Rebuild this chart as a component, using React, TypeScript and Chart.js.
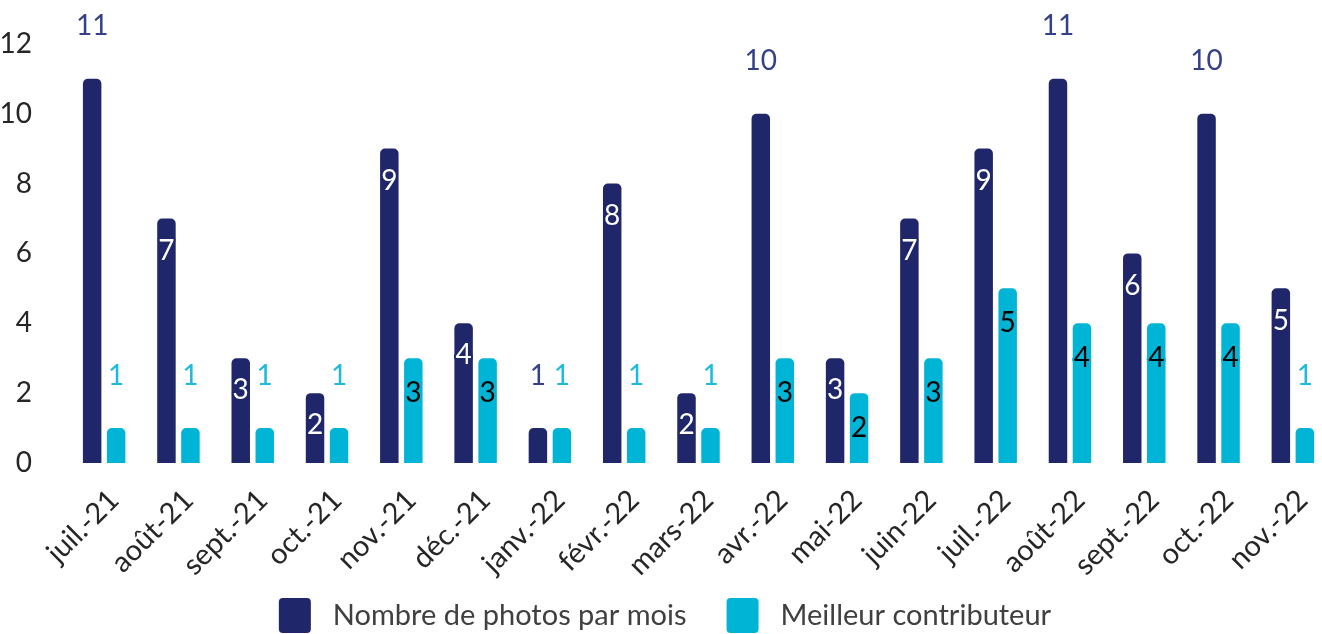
import React, { useEffect, useRef } from "react";
import { Chart, registerables } from "chart.js";

Chart.register(...registerables);

const categories = [
  "juil.-21", "août-21", "sept.-21", "oct.-21", "nov.-21", "déc.-21", "janv.-22",
  "févr.-22", "mars-22", "avr.-22", "mai-22", "juin-22", "juil.-22", "août-22",
  "sept.-22", "oct.-22", "nov.-22",
];
const photosParMois = [11, 7, 3, 2, 9, 4, 1, 8, 2, 10, 3, 7, 9, 11, 6, 10, 5];
const meilleurContributeur = [1, 1, 1, 1, 3, 3, 1, 1, 1, 3, 2, 3, 5, 4, 4, 4, 1];
const yTicks = [0, 2, 4, 6, 8, 10, 12];

const DARK = "#20266A";
const CYAN = "#00B4D6";
const DARK_LABEL = "#35408A";
const CYAN_LABEL = "#1CBADC";
const FONT = "Lato, 'Open Sans', sans-serif";

const labelPlugin = {
  id: "barLabels",
  afterDatasetsDraw(chart: any) {
    const ctx = chart.ctx;
    const yScale = chart.scales.y;
    const unit = Math.abs(yScale.getPixelForValue(1) - yScale.getPixelForValue(0));
    chart.data.datasets.forEach((ds: any, di: number) => {
      const meta = chart.getDatasetMeta(di);
      meta.data.forEach((el: any, i: number) => {
        const v = ds.data[i];
        const outside = v >= 10 || v <= 1;
        ctx.save();
        ctx.font = `28px ${FONT}`;
        ctx.textAlign = "center";
        ctx.textBaseline = "middle";
        if (outside) {
          ctx.fillStyle = di === 0 ? DARK_LABEL : CYAN_LABEL;
          ctx.fillText(String(v), el.x, el.y - unit * 1.5);
        } else {
          const y = el.y + (di === 0 ? unit * 0.92 : unit);
          ctx.lineJoin = "round";
          ctx.lineWidth = 4;
          ctx.strokeStyle = di === 0 ? DARK : CYAN;
          ctx.strokeText(String(v), el.x, y);
          ctx.fillStyle = di === 0 ? "#FFFFFF" : "#000000";
          ctx.fillText(String(v), el.x, y);
        }
        ctx.restore();
      });
    });
  },
};

const legendPlugin = {
  id: "customLegend",
  afterDraw(chart: any) {
    const ctx = chart.ctx;
    const boxW = 32;
    const boxH = 35;
    const gapText = 22;
    const gapItem = 40;
    const top = chart.height - 36;
    ctx.save();
    ctx.font = `29px ${FONT}`;
    const items = chart.data.datasets.map((ds: any) => ({
      text: ds.label,
      color: ds.backgroundColor,
      w: ctx.measureText(ds.label).width,
    }));
    const total = items.reduce((s: number, it: any) => s + boxW + gapText + it.w, 0) + gapItem * (items.length - 1);
    let x = 665 - total / 2;
    items.forEach((it: any) => {
      ctx.fillStyle = it.color;
      ctx.beginPath();
      (ctx as any).roundRect(x, top, boxW, boxH, 4);
      ctx.fill();
      ctx.fillStyle = "#404040";
      ctx.textAlign = "left";
      ctx.textBaseline = "middle";
      ctx.fillText(it.text, x + boxW + gapText, top + boxH / 2);
      x += boxW + gapText + it.w + gapItem;
    });
    ctx.restore();
  },
};

export default function App() {
  const ref = useRef<HTMLCanvasElement | null>(null);
  useEffect(() => {
    document.body.style.margin = "0";
    document.body.style.overflow = "hidden";
    const chart = new Chart(ref.current as HTMLCanvasElement, {
      type: "bar",
      data: {
        labels: categories,
        datasets: [
          {
            label: "Nombre de photos par mois",
            data: photosParMois,
            backgroundColor: DARK,
            borderRadius: { topLeft: 5, topRight: 5 },
            borderSkipped: "bottom",
            categoryPercentage: 0.646,
            barPercentage: 0.77,
          },
          {
            label: "Meilleur contributeur",
            data: meilleurContributeur,
            backgroundColor: CYAN,
            borderRadius: { topLeft: 5, topRight: 5 },
            borderSkipped: "bottom",
            categoryPercentage: 0.646,
            barPercentage: 0.77,
          },
        ],
      },
      options: {
        responsive: false,
        animation: false,
        layout: { padding: { top: 43, left: 0, right: 0, bottom: 0 } },
        plugins: {
          legend: { display: false },
          tooltip: { enabled: false },
        },
        scales: {
          x: {
            grid: { display: false },
            border: { display: false },
            afterFit: (s: any) => {
              s.height = 171;
            },
            ticks: {
              minRotation: 45,
              maxRotation: 45,
              color: "#262626",
              font: { family: FONT, size: 29 },
              padding: 12,
              labelOffset: 10,
            },
          },
          y: {
            min: 0,
            max: 12,
            grid: { display: false },
            border: { display: false },
            afterBuildTicks: (s: any) => {
              s.ticks = yTicks.map((v) => ({ value: v }));
            },
            afterFit: (s: any) => {
              s.width = 67;
            },
            ticks: {
              color: "#262626",
              font: { family: FONT, size: 28 },
              padding: 27,
            },
          },
        },
      },
      plugins: [labelPlugin, legendPlugin],
    });
    return () => chart.destroy();
  }, []);
  return (
    <div style={{ position: "fixed", left: 0, top: 0, width: 1330, height: 634 }}>
      <canvas ref={ref} width={1330} height={634} />
    </div>
  );
}
